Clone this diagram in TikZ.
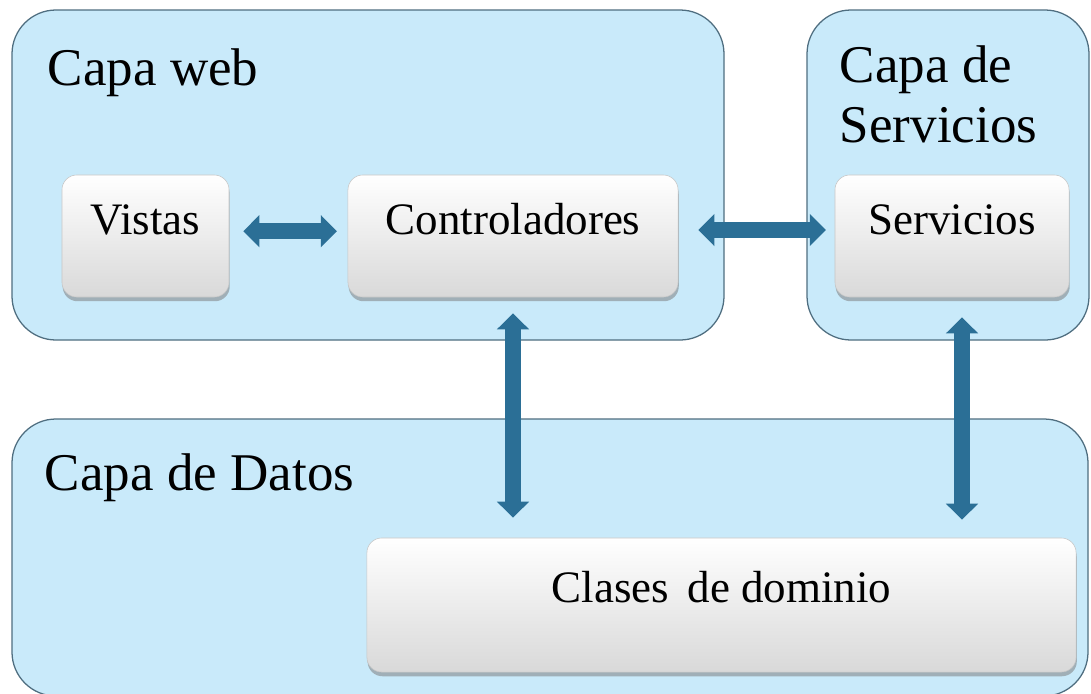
\documentclass[tikz,border=0pt]{standalone}
\usepackage{fontspec}
\setmainfont{Liberation Serif}
\usetikzlibrary{arrows.meta,shadows}
\definecolor{capafill}{HTML}{C9EAFA}
\definecolor{capaline}{HTML}{4F6E80}
\definecolor{flecha}{HTML}{2B6F96}
\tikzset{
  capa/.style={draw=capaline,line width=0.9pt,fill=capafill,rounded corners=1.1cm},
  titulo/.style={anchor=base west,align=left,font=\fontsize{37.7}{42}\selectfont},
  caja/.style={draw=gray!45,line width=0.4pt,rounded corners=0.37cm,top color=white,bottom color=gray!30,
    drop shadow={shadow xshift=0.5pt,shadow yshift=-3pt,opacity=0.55},
    font=\fontsize{32}{38}\selectfont,text height=0.7em,text depth=0.85em,inner sep=0pt},
  flechas/.style={flecha,line width=0.4cm,{Triangle[width=0.78cm,length=0.4cm]}-{Triangle[width=0.78cm,length=0.4cm]}}
}
\begin{document}
\begin{tikzpicture}[x=0.025cm,y=-0.025cm]
\useasboundingbox (0,0) rectangle (1091,693);
\fill[white] (0,0) rectangle (1091,693);
% capas
\draw[capa] (12,10) rectangle (724,340);
\draw[capa] (807,10) rectangle (1089,340);
\draw[capa] (12,419) rectangle (1088,696);
\node[titulo] (tweb) at (43,85) {Capa web};
\node[titulo] (tserv) at (835,142) {Capa de\\Servicios};
\node[titulo] (tdatos) at (40,490) {Capa de Datos};
% cajas
\node[caja,minimum width=4.175cm,minimum height=3.05cm] (vis) at (145.5,236) {Vistas};
\node[caja,minimum width=8.25cm,minimum height=3.05cm] (ctrl) at (513,236) {Controladores};
\node[caja,minimum width=5.85cm,minimum height=3.05cm] (serv) at (952,236) {Servicios};
\node[caja,minimum width=17.725cm,minimum height=3.35cm,text depth=1em] (dom) at (721.5,605) {Clases\ \,de dominio};
% flechas
\draw[flechas,shorten <=0.35cm,shorten >=0.27cm] ([yshift=0.12cm]vis.east) -- ([yshift=0.12cm]ctrl.west);
\draw[flechas,shorten <=0.5cm,shorten >=0.22cm] ([yshift=0.15cm]ctrl.east) -- ([yshift=0.15cm]serv.west);
\draw[flechas,shorten <=0.4cm,shorten >=0.5cm] (ctrl.south) -- (ctrl.south |- dom.north);
\draw[flechas,shorten <=0.5cm,shorten >=0.45cm] ([xshift=0.25cm]serv.south) -- ([xshift=0.25cm]serv.south |- dom.north);
\end{tikzpicture}
\end{document}
